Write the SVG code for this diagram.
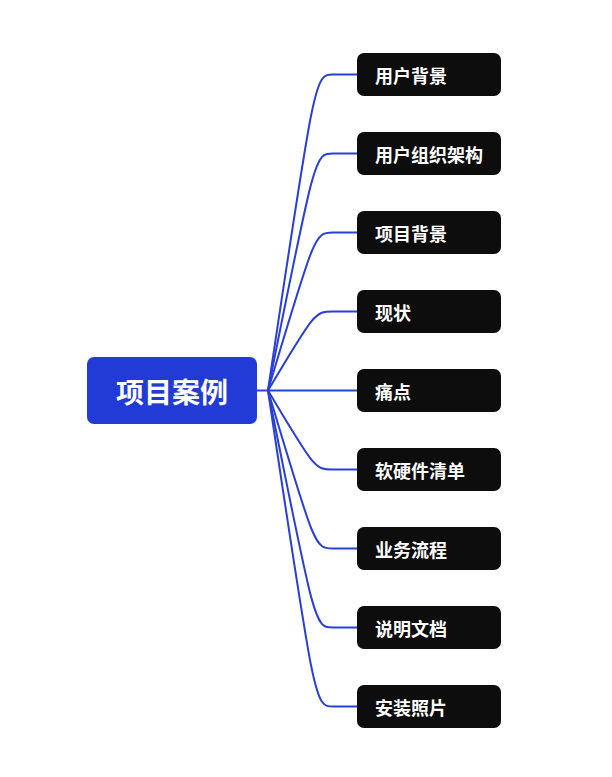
<svg xmlns="http://www.w3.org/2000/svg" width="612" height="777" viewBox="0 0 612 777">
<style>
.c{fill:none;stroke:#2a3fd4;stroke-width:2}
.n{fill:#0d0d0d}
.t{fill:#ffffff;font-family:"Noto Sans CJK SC","Noto Sans",sans-serif;font-weight:bold;font-size:18px;dominant-baseline:central}
.r{fill:#233bd6}
.rt{fill:#ffffff;font-family:"Noto Sans CJK SC","Noto Sans",sans-serif;font-weight:bold;font-size:28px;text-anchor:middle;dominant-baseline:central}
</style>
<rect width="612" height="777" fill="#ffffff"/>
<g id="connectors">
<path class="c" d="M257,390.5 H268"/>
<path class="c" d="M268,390.5 C315,74.5 315,74.5 333,74.5 H357"/>
<path class="c" d="M268,390.5 C315,153.5 315,153.5 333,153.5 H357"/>
<path class="c" d="M268,390.5 C315,232.5 315,232.5 333,232.5 H357"/>
<path class="c" d="M268,390.5 C315,311.5 315,311.5 333,311.5 H357"/>
<path class="c" d="M268,390.5 H357"/>
<path class="c" d="M268,390.5 C315,469.5 315,469.5 333,469.5 H357"/>
<path class="c" d="M268,390.5 C315,548.5 315,548.5 333,548.5 H357"/>
<path class="c" d="M268,390.5 C315,627.5 315,627.5 333,627.5 H357"/>
<path class="c" d="M268,390.5 C315,706.5 315,706.5 333,706.5 H357"/>
</g>
<g id="root"><rect class="r" x="87" y="357" width="170" height="67" rx="7"/><text class="rt" x="172" y="391">项目案例</text></g>
<g id="n1"><rect class="n" x="357" y="53" width="144" height="43" rx="7"/><text class="t" x="375" y="75">用户背景</text></g>
<g id="n2"><rect class="n" x="357" y="132" width="144" height="43" rx="7"/><text class="t" x="375" y="154">用户组织架构</text></g>
<g id="n3"><rect class="n" x="357" y="211" width="144" height="43" rx="7"/><text class="t" x="375" y="233">项目背景</text></g>
<g id="n4"><rect class="n" x="357" y="290" width="144" height="43" rx="7"/><text class="t" x="375" y="312">现状</text></g>
<g id="n5"><rect class="n" x="357" y="369" width="144" height="43" rx="7"/><text class="t" x="375" y="391">痛点</text></g>
<g id="n6"><rect class="n" x="357" y="448" width="144" height="43" rx="7"/><text class="t" x="375" y="470">软硬件清单</text></g>
<g id="n7"><rect class="n" x="357" y="527" width="144" height="43" rx="7"/><text class="t" x="375" y="549">业务流程</text></g>
<g id="n8"><rect class="n" x="357" y="606" width="144" height="43" rx="7"/><text class="t" x="375" y="628">说明文档</text></g>
<g id="n9"><rect class="n" x="357" y="685" width="144" height="43" rx="7"/><text class="t" x="375" y="707">安装照片</text></g>
</svg>
